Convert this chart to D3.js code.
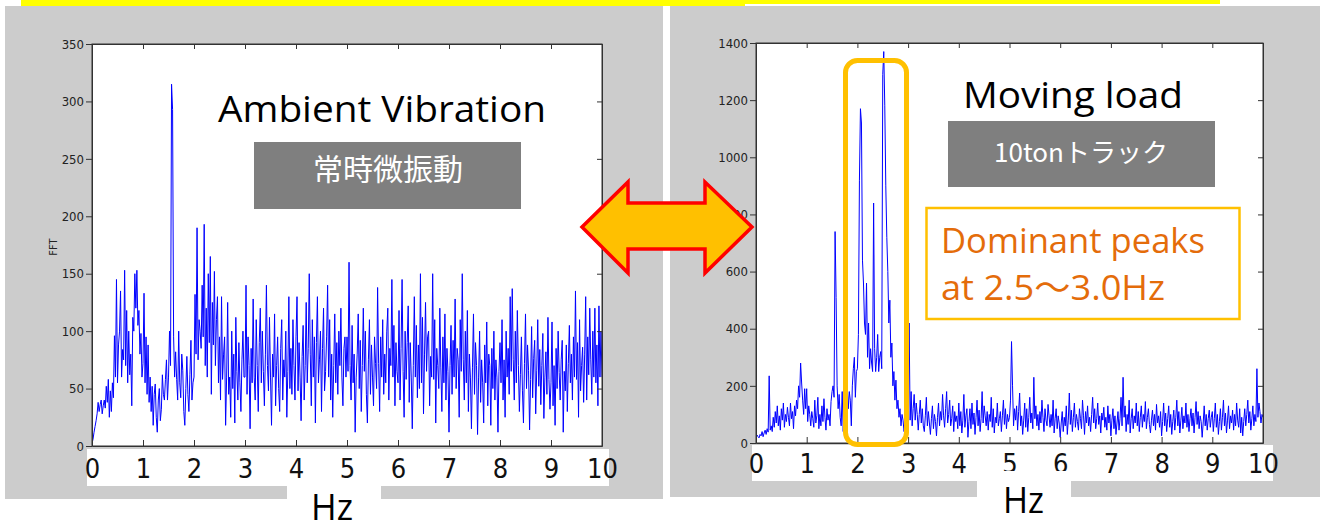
<!DOCTYPE html>
<html lang="ja">
<head>
<meta charset="UTF-8">
<title>FFT ambient vs moving load</title>
<style>
  html, body { margin: 0; padding: 0; background: #fff; }
  .panel-bg { fill: #cccccc; }
  .fft-line { fill: none; stroke: #0000ff; stroke-width: 1; }
  .axis path, .axis line { stroke: #333; }
  .y-axis text {
    font-family: "Liberation Sans Narrow", "DejaVu Sans Condensed", sans-serif;
    font-size: 13px;
    fill: #222;
  }
  .x-axis text {
    font-family: "Liberation Sans Narrow", "DejaVu Sans Condensed", sans-serif;
    font-size: 27px;
    fill: #111;
  }
  .frame { fill: none; stroke: #333; stroke-width: 1; }
  .title { font-family: "Open Sans", "Noto Sans", sans-serif; font-size: 36px; fill: #000; }
  .tag { font-family: "Noto Sans CJK JP", "Noto Sans", sans-serif; fill: #fff; text-anchor: middle; }
  .note { font-family: "Open Sans", "Noto Sans", "Noto Sans CJK JP", sans-serif; font-size: 34px; fill: #e46c0a; }
</style>
<script src="https://cdn.jsdelivr.net/npm/d3@7"></script>
</head>
<body>
<script>
  // ---------- data ----------
  const freqStep = 0.02; // Hz between FFT bins
  const xTicks = [0, 1, 2, 3, 4, 5, 6, 7, 8, 9, 10];
  const ambientYTicks = [0, 50, 100, 150, 200, 250, 300, 350];
  const truckYTicks = [0, 200, 400, 600, 800, 1000, 1200, 1400];

  // 常時微振動 : one row per Hz (x.00 .. x.98), last value = 10 Hz
  const ambientFFT = [
    2, 6, 12, 17, 22, 28, 38, 30, 36, 40, 28, 35, 40, 33, 52, 38, 58, 25, 48, 30, 55, 42, 96, 60, 145, 55, 88, 100, 135, 60, 84, 75, 153, 70, 118, 55, 100, 62, 80, 35, 112, 100, 150, 120, 153, 105, 118, 80, 98, 60,
    72, 133, 55, 95, 45, 88, 38, 60, 30, 52, 18, 45, 54, 25, 12, 40, 50, 22, 32, 62, 45, 40, 58, 75, 40, 60, 100, 70, 315, 293, 95, 60, 82, 58, 40, 100, 55, 42, 80, 66, 30, 18, 50, 78, 45, 30, 62, 92, 40, 55,
    60, 132, 80, 190, 75, 110, 100, 85, 140, 95, 193, 70, 120, 60, 150, 90, 165, 45, 125, 88, 152, 70, 110, 130, 55, 95, 40, 130, 58, 80, 95, 18, 60, 125, 45, 60, 25, 100, 50, 80, 20, 112, 65, 40, 90, 55, 30, 75, 100, 60,
    60, 140, 45, 95, 70, 15, 85, 55, 128, 60, 40, 110, 70, 30, 90, 120, 55, 100, 65, 35, 80, 140, 70, 48, 112, 60, 18, 80, 60, 115, 35, 70, 95, 50, 30, 85, 110, 40, 75, 60, 100, 25, 65, 130, 50, 85, 45, 110, 70, 40,
    95, 130, 48, 90, 60, 22, 78, 105, 40, 70, 125, 55, 85, 150, 80, 35, 110, 60, 95, 20, 90, 130, 55, 75, 100, 30, 85, 120, 48, 65, 95, 140, 60, 110, 40, 80, 25, 70, 115, 55, 90, 45, 100, 70, 120, 60, 35, 85, 95, 60,
    95, 65, 160, 70, 40, 105, 55, 80, 12, 60, 80, 115, 50, 92, 30, 70, 120, 65, 100, 45, 20, 75, 110, 45, 88, 60, 35, 95, 72, 50, 138, 72, 30, 95, 60, 110, 45, 80, 55, 100, 120, 40, 85, 70, 145, 60, 105, 35, 90, 65,
    55, 118, 40, 85, 145, 65, 25, 100, 58, 90, 122, 38, 90, 60, 15, 70, 130, 60, 105, 42, 88, 50, 150, 55, 112, 28, 80, 125, 65, 95, 100, 35, 78, 60, 150, 58, 110, 20, 85, 70, 50, 120, 68, 30, 95, 55, 115, 40, 85, 65,
    12, 70, 105, 45, 92, 60, 128, 50, 85, 75, 25, 110, 65, 150, 75, 40, 100, 55, 118, 30, 80, 60, 15, 68, 115, 45, 90, 70, 10, 60, 100, 38, 75, 55, 20, 88, 55, 108, 35, 80, 70, 18, 85, 50, 100, 40, 75, 60, 12, 65,
    90, 55, 110, 40, 75, 25, 100, 60, 85, 45, 130, 65, 137, 75, 40, 100, 55, 118, 70, 30, 62, 95, 48, 20, 72, 115, 50, 88, 66, 14, 58, 104, 42, 76, 92, 28, 66, 110, 52, 84, 36, 70, 98, 24, 60, 82, 45, 112, 58, 32,
    55, 108, 35, 70, 18, 85, 50, 100, 64, 40, 75, 92, 12, 65, 48, 88, 30, 72, 105, 55, 80, 40, 95, 60, 135, 58, 90, 25, 110, 48, 70, 86, 38, 80, 130, 40, 95, 62, 120, 75, 45, 100, 60, 120, 55, 88, 35, 122, 60, 100,
    60
  ];

  // 10tonトラック
  const truckFFT = [
    20, 28, 22, 18, 30, 25, 40, 22, 35, 45, 30, 50, 38, 235, 45, 60, 40, 90, 55, 110, 70, 130, 60, 95, 45, 120, 80, 140, 55, 100, 75, 125, 90, 60, 140, 85, 110, 50, 130, 95, 150, 120, 200, 160, 280, 210, 150, 100, 190, 120,
    190, 75, 130, 100, 60, 110, 85, 55, 150, 70, 95, 160, 50, 100, 60, 130, 75, 155, 90, 45, 120, 80, 100, 60, 145, 180, 200, 160, 740, 510, 200, 120, 170, 90, 60, 180, 40, 110, 150, 85, 200, 120, 180, 150, 60, 200, 260, 300, 160, 250,
    260, 380, 920, 1170, 1120, 640, 560, 420, 380, 560, 300, 420, 260, 330, 280, 250, 840, 330, 250, 300, 380, 250, 300, 320, 260, 1290, 1370, 1180, 900, 720, 600, 420, 500, 300, 350, 200, 250, 150, 220, 120, 150, 90, 120, 60, 100, 80, 40, 60, 90, 50,
    110, 420, 80, 180, 60, 120, 170, 80, 140, 100, 45, 100, 150, 70, 120, 60, 40, 95, 160, 60, 110, 70, 30, 85, 130, 50, 100, 75, 25, 90, 140, 60, 110, 80, 170, 95, 55, 120, 180, 70, 100, 150, 60, 85, 130, 40, 110, 75, 95, 50,
    140, 60, 110, 35, 80, 170, 55, 95, 120, 20, 75, 120, 50, 140, 65, 105, 30, 90, 150, 60, 115, 40, 85, 180, 70, 130, 95, 60, 110, 45, 100, 75, 160, 55, 120, 35, 90, 70, 140, 60, 85, 110, 40, 95, 150, 65, 120, 50, 100, 75,
    90, 150, 355, 200, 60, 120, 80, 130, 45, 110, 175, 60, 95, 30, 80, 140, 55, 120, 40, 90, 160, 70, 105, 50, 230, 85, 130, 60, 100, 45, 110, 70, 150, 90, 40, 120, 80, 60, 135, 95, 55, 100, 60, 150, 35, 85, 120, 50, 95, 70,
    20, 70, 110, 40, 90, 60, 130, 30, 80, 175, 65, 115, 40, 90, 140, 55, 100, 75, 45, 120, 85, 50, 150, 95, 30, 110, 70, 130, 60, 90, 40, 100, 160, 70, 120, 50, 85, 140, 65, 95, 35, 105, 80, 125, 55, 90, 45, 130, 70, 100,
    25, 80, 120, 50, 95, 30, 70, 110, 45, 85, 160, 60, 230, 90, 130, 40, 100, 65, 150, 35, 85, 120, 50, 95, 70, 140, 60, 110, 40, 90, 130, 55, 100, 75, 145, 50, 90, 120, 65, 35, 80, 115, 60, 100, 45, 135, 70, 95, 55, 110,
    25, 75, 140, 60, 105, 40, 85, 130, 55, 100, 30, 75, 115, 45, 90, 150, 60, 110, 35, 80, 125, 50, 95, 70, 140, 55, 100, 40, 85, 120, 60, 105, 35, 90, 145, 65, 110, 50, 95, 75, 20, 70, 130, 60, 100, 45, 85, 115, 55, 90,
    110, 40, 85, 140, 55, 100, 30, 75, 120, 45, 90, 150, 60, 105, 35, 80, 130, 50, 95, 70, 115, 45, 100, 60, 140, 80, 55, 120, 35, 90, 25, 75, 120, 60, 100, 150, 70, 110, 45, 85, 130, 60, 100, 75, 260, 90, 140, 110, 70, 100,
    90
  ];

  const width = 1325;
  const height = 527;

  const svg = d3.select('body').append('svg')
    .attr('width', width)
    .attr('height', height);

  // yellow strip along the top
  svg.append('rect').attr('x', 21).attr('y', 0).attr('width', 724).attr('height', 6).attr('fill', '#ffff00');
  svg.append('rect').attr('x', 745).attr('y', 0).attr('width', 475).attr('height', 4).attr('fill', '#ffff00');

  // gray figure backgrounds
  svg.append('rect').attr('class', 'panel-bg').attr('x', 5).attr('y', 6).attr('width', 658).attr('height', 493);
  svg.append('rect').attr('class', 'panel-bg').attr('x', 670).attr('y', 6).attr('width', 650).attr('height', 491);

  function drawChart(cfg) {
    const g = svg.append('g');
    const x = d3.scaleLinear().domain([0, 10]).range([cfg.left, cfg.right]);
    const y = d3.scaleLinear().domain([0, cfg.yMax]).range([cfg.bottom, cfg.top]);

    g.append('rect')
      .attr('fill', '#fff')
      .attr('x', cfg.left).attr('y', cfg.top)
      .attr('width', cfg.right - cfg.left).attr('height', cfg.bottom - cfg.top);
    // white strip behind the big tick labels
    g.append('rect')
      .attr('fill', '#fff')
      .attr('x', cfg.strip[0]).attr('y', cfg.strip[1])
      .attr('width', cfg.strip[2] - cfg.strip[0]).attr('height', cfg.strip[3] - cfg.strip[1]);

    g.append('clipPath').attr('id', cfg.id + '-clip')
      .append('rect')
      .attr('x', cfg.left).attr('y', cfg.top)
      .attr('width', cfg.right - cfg.left).attr('height', cfg.bottom - cfg.top);

    const line = d3.line()
      .x((d, i) => x(i * freqStep))
      .y((d) => y(d));

    g.append('path')
      .datum(cfg.values)
      .attr('class', 'fft-line')
      .attr('clip-path', `url(#${cfg.id}-clip)`)
      .attr('d', line);

    g.append('g')
      .attr('class', 'axis x-axis')
      .attr('transform', `translate(0,${cfg.bottom})`)
      .call(d3.axisBottom(x).tickValues(xTicks).tickSize(-6).tickSizeOuter(0).tickPadding(cfg.labelPad));
    g.append('g')
      .attr('class', 'axis')
      .attr('transform', `translate(0,${cfg.top})`)
      .call(d3.axisTop(x).tickValues(xTicks).tickSize(-5).tickSizeOuter(0).tickFormat(''));
    g.append('g')
      .attr('class', 'axis y-axis')
      .attr('transform', `translate(${cfg.left},0)`)
      .call(d3.axisLeft(y).tickValues(cfg.yTicks).tickFormat(d3.format('d'))
        .tickSize(6).tickSizeOuter(0).tickPadding(2));
    g.append('g')
      .attr('class', 'axis')
      .attr('transform', `translate(${cfg.right},0)`)
      .call(d3.axisRight(y).tickValues(cfg.yTicks).tickSize(-5).tickSizeOuter(0).tickFormat(''));

    g.append('rect')
      .attr('class', 'frame')
      .attr('x', cfg.left).attr('y', cfg.top)
      .attr('width', cfg.right - cfg.left).attr('height', cfg.bottom - cfg.top);

    return { x, y };
  }

  drawChart({
    id: 'ambient', values: ambientFFT, yMax: 350, yTicks: ambientYTicks,
    left: 92, right: 602, top: 44, bottom: 446,
    strip: [87, 449, 609, 486], labelPad: 13
  });

  drawChart({
    id: 'truck', values: truckFFT, yMax: 1400, yTicks: truckYTicks,
    left: 756, right: 1263, top: 43, bottom: 443,
    strip: [752, 445, 1273, 481], labelPad: 11
  });

  // FFT y label (left chart only)
  svg.append('text')
    .attr('transform', 'translate(57,247) rotate(-90)')
    .attr('text-anchor', 'middle')
    .style('font-family', '"Liberation Sans Narrow", "DejaVu Sans Condensed", sans-serif')
    .style('font-size', '11px')
    .style('fill', '#222')
    .text('FFT');

  // Hz labels with their white boxes
  svg.append('rect').attr('fill', '#fff').attr('x', 287).attr('y', 486).attr('width', 94).attr('height', 41);
  svg.append('rect').attr('fill', '#fff').attr('x', 977).attr('y', 471).attr('width', 94).attr('height', 56);
  svg.append('text').attr('class', 'title').attr('x', 311).attr('y', 520)
    .attr('textLength', 42).attr('lengthAdjust', 'spacingAndGlyphs').text('Hz');
  svg.append('text').attr('class', 'title').attr('x', 1003).attr('y', 513)
    .attr('textLength', 41).attr('lengthAdjust', 'spacingAndGlyphs').text('Hz');

  // titles and tags
  svg.append('text').attr('class', 'title').attr('x', 218).attr('y', 122)
    .attr('textLength', 328).attr('lengthAdjust', 'spacingAndGlyphs').text('Ambient Vibration');
  svg.append('rect').attr('x', 254).attr('y', 142).attr('width', 267).attr('height', 67).attr('fill', '#7f7f7f');
  svg.append('text').attr('class', 'tag').attr('x', 388).attr('y', 180).style('font-size', '30px').text('常時微振動');

  svg.append('text').attr('class', 'title').attr('x', 963).attr('y', 108)
    .attr('textLength', 220).attr('lengthAdjust', 'spacingAndGlyphs').text('Moving load');
  svg.append('rect').attr('x', 948).attr('y', 121).attr('width', 267).attr('height', 66).attr('fill', '#7f7f7f');
  svg.append('text').attr('class', 'tag').attr('x', 1081).attr('y', 162).style('font-size', '26px').text('10tonトラック');

  // highlight of the dominant peaks
  svg.append('rect')
    .attr('x', 845.5).attr('y', 60.5).attr('width', 61).attr('height', 384)
    .attr('rx', 12)
    .attr('fill', 'none').attr('stroke', '#ffc000').attr('stroke-width', 5);

  svg.append('rect')
    .attr('x', 926.5).attr('y', 208).attr('width', 313).attr('height', 111)
    .attr('fill', '#fff').attr('stroke', '#ffc000').attr('stroke-width', 2.5);
  svg.append('text').attr('class', 'note').attr('x', 941).attr('y', 253)
    .attr('textLength', 264).attr('lengthAdjust', 'spacingAndGlyphs').text('Dominant peaks');
  svg.append('text').attr('class', 'note').attr('x', 941).attr('y', 300)
    .attr('textLength', 224).attr('lengthAdjust', 'spacingAndGlyphs').text('at 2.5～3.0Hz');

  // double arrow between the panels
  const arrow = [
    [582, 227], [628, 182], [628, 203], [705, 203], [705, 182],
    [752, 227], [705, 273], [705, 249], [628, 249], [628, 273]
  ];
  svg.append('polygon')
    .attr('points', arrow.map((p) => p.join(',')).join(' '))
    .attr('fill', '#ffc000')
    .attr('stroke', '#ff0000')
    .attr('stroke-width', 3.5)
    .attr('stroke-linejoin', 'miter');
</script>
</body>
</html>
